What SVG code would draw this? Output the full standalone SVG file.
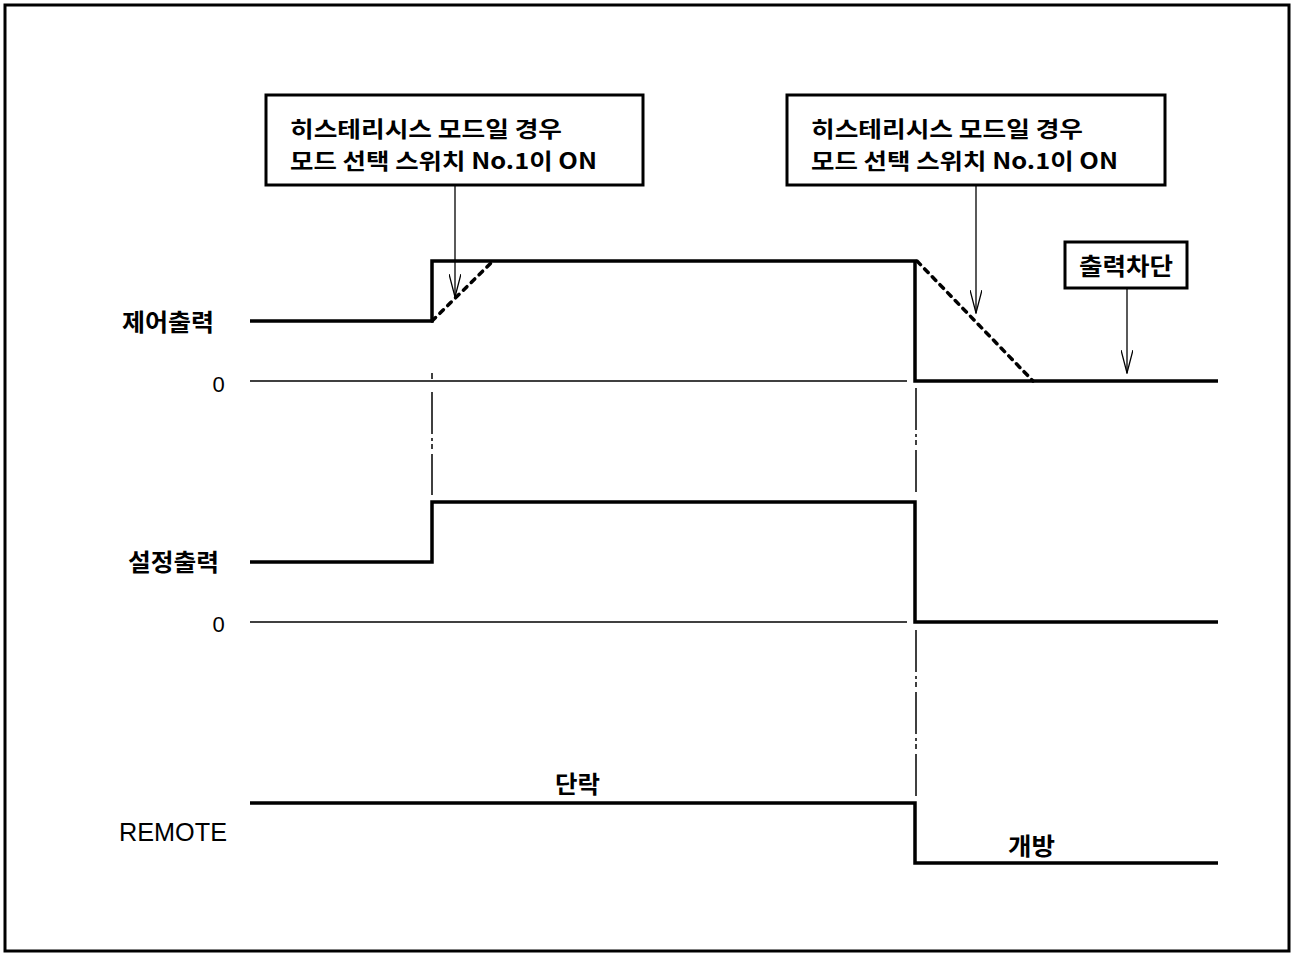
<svg xmlns="http://www.w3.org/2000/svg" width="1293" height="956" viewBox="0 0 1293 956">
<defs>
<style>
.frame{fill:#fff;stroke:#000;stroke-width:3}
.box{fill:#fff;stroke:#000;stroke-width:3}
.thick{fill:none;stroke:#000;stroke-width:3.5;stroke-linejoin:miter;stroke-linecap:butt}
.thin{fill:none;stroke:#000;stroke-width:1.5}
.dot{fill:none;stroke:#000;stroke-width:3.5;stroke-dasharray:5 6;stroke-linecap:round}
.dd{fill:none;stroke:#000;stroke-width:1.5;stroke-dasharray:42 4 3 3 5 5}
.arr{fill:none;stroke:#000;stroke-width:1.3}
.lbl{font-family:"Noto Sans CJK KR","Noto Sans",sans-serif;font-weight:bold;font-size:24px;fill:#000}
.bx{font-size:22px}
.num{font-family:"Liberation Sans",Arial,sans-serif;font-size:22px;fill:#000}
</style>
<marker id="ah" viewBox="0 0 24 12" refX="23" refY="6" markerWidth="24" markerHeight="12" markerUnits="userSpaceOnUse" orient="auto">
<path d="M0,0 L23,6 L0,12" fill="none" stroke="#000" stroke-width="1.3"/>
</marker>
</defs>
<rect class="frame" x="5" y="5" width="1284" height="946"/>

<g id="signals">
<path class="thick" d="M250,321 H432 V261 H915 V381 H1218"/>
<path class="thin" d="M250,381 H907"/>
<path class="dot" d="M432,321 L493,261"/>
<path class="dot" d="M917,261 L1033,381"/>
<path class="thick" d="M250,562 H432 V502 H915 V622 H1218"/>
<path class="thin" d="M250,622 H907"/>
<path class="thick" d="M250,803 H915 V863 H1218"/>
</g>

<g id="connectors">
<path class="thin" d="M432,373 V379"/>
<path class="dd" d="M432,392 V495"/>
<path class="dd" d="M916,388 V495"/>
<path class="dd" d="M916,630 V797"/>
<path class="arr" d="M455,185 V297" marker-end="url(#ah)"/>
<path class="arr" d="M976,185 V313" marker-end="url(#ah)"/>
<path class="arr" d="M1127,288 V373" marker-end="url(#ah)"/>
</g>

<g id="box1">
<rect class="box" x="266" y="95" width="377" height="90"/>
<text class="lbl bx" x="290" y="137" textLength="272" lengthAdjust="spacingAndGlyphs">히스테리시스 모드일 경우</text>
<text class="lbl bx" x="290" y="169" textLength="307" lengthAdjust="spacingAndGlyphs">모드 선택 스위치 No.1이 ON</text>
</g>
<g id="box2">
<rect class="box" x="787" y="95" width="378" height="90"/>
<text class="lbl bx" x="811" y="137" textLength="272" lengthAdjust="spacingAndGlyphs">히스테리시스 모드일 경우</text>
<text class="lbl bx" x="811" y="169" textLength="307" lengthAdjust="spacingAndGlyphs">모드 선택 스위치 No.1이 ON</text>
</g>
<g id="box3">
<rect class="box" x="1065" y="242" width="122" height="46"/>
<text class="lbl" x="1079" y="275" textLength="94" lengthAdjust="spacingAndGlyphs">출력차단</text>
</g>

<g id="labels">
<text class="lbl" x="122" y="331" textLength="92" lengthAdjust="spacingAndGlyphs">제어출력</text>
<text class="num" x="218.5" y="392" text-anchor="middle">0</text>
<text class="lbl" x="128" y="571" textLength="91" lengthAdjust="spacingAndGlyphs">설정출력</text>
<text class="num" x="218.5" y="632" text-anchor="middle">0</text>
<text class="num" x="119" y="841" style="font-size:25.5px" textLength="108" lengthAdjust="spacingAndGlyphs">REMOTE</text>
<text class="lbl" x="555" y="793" textLength="45" lengthAdjust="spacingAndGlyphs">단락</text>
<text class="lbl" x="1008" y="855" textLength="47" lengthAdjust="spacingAndGlyphs">개방</text>
</g>
</svg>
